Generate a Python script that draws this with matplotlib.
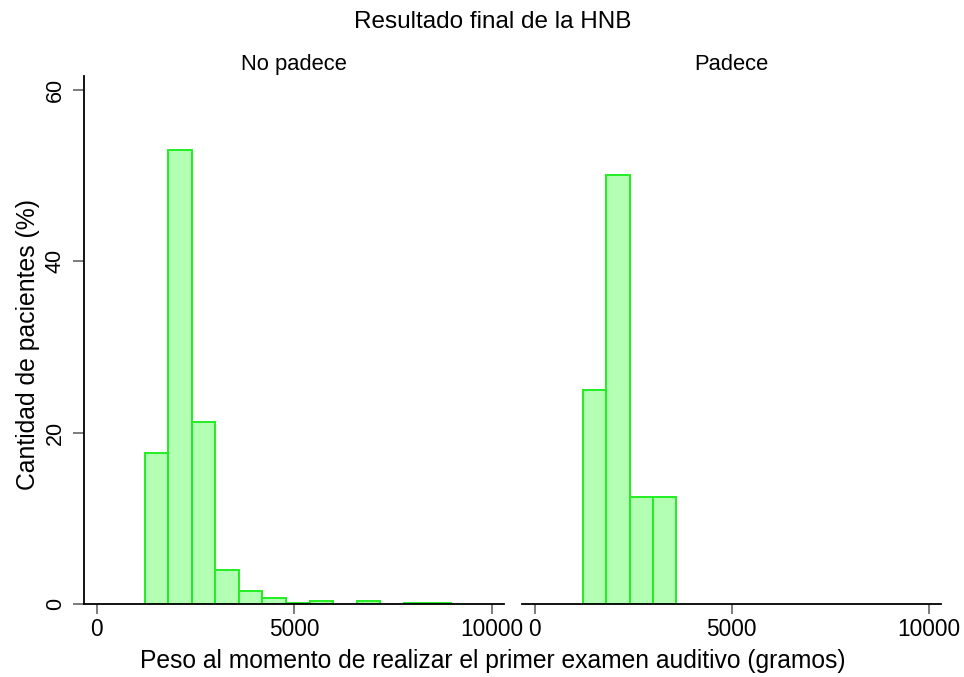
import numpy as np
import matplotlib
matplotlib.use("Agg")
import matplotlib.pyplot as plt

plt.rcParams['font.family'] = ['Liberation Sans', 'DejaVu Sans']

# Common histogram bins (grams)
bin_start = 1218
bin_width = 595.5

groups = ["No padece", "Padece"]
# Percent of patients per bin
pct_no_padece = [17.6, 53.0, 21.2, 4.0, 1.5, 0.65, 0.07, 0.35, 0.0, 0.35, 0.0, 0.07, 0.07]
pct_padece = [25.0, 50.0, 12.5, 12.5]

x_ticks = [0, 5000, 10000]
y_ticks = [0, 20, 40, 60]

title = "Resultado final de la HNB"
xlabel = "Peso al momento de realizar el primer examen auditivo (gramos)"
ylabel = "Cantidad de pacientes (%)"

W, H = 964, 677
fig = plt.figure(figsize=(W / 100, H / 100), dpi=100)
fig.patch.set_facecolor("white")

def px_axes(x0, y0, x1, y1):
    return fig.add_axes([x0 / W, 1 - y1 / H, (x1 - x0) / W, (y1 - y0) / H])

ax_left = px_axes(84, 76, 503.5, 604)
ax_right = px_axes(521.7, 76, 940.7, 604)

fill = "#b3ffb3"
edge = "#22ee22"
tick_col = "#666666"

for ax, name, vals in [(ax_left, groups[0], pct_no_padece),
                       (ax_right, groups[1], pct_padece)]:
    vals = np.asarray(vals, dtype=float)
    lefts = bin_start + bin_width * np.arange(len(vals))
    mask = vals > 0
    ax.bar(lefts[mask], vals[mask], width=bin_width, align="edge",
           color=fill, edgecolor=edge, linewidth=1.4, zorder=2)
    ax.set_xlim(-325, 10300)
    ax.set_ylim(0, 61.6)
    ax.set_xticks(x_ticks)
    ax.set_xticklabels([str(t) for t in x_ticks], fontsize=16.3)
    ax.tick_params(axis="x", direction="out", length=7, width=1.2,
                   color=tick_col, pad=3)
    for s in ["top", "right"]:
        ax.spines[s].set_visible(False)
    ax.spines["bottom"].set_linewidth(1.3)
    ax.spines["bottom"].set_color("black")
    ax.set_title(name, fontsize=15.8, pad=4)
    ax.patch.set_alpha(0)

ax_left.set_yticks(y_ticks)
ax_left.set_yticklabels([str(t) for t in y_ticks], fontsize=15.5,
                        rotation=90, va="center")
ax_left.tick_params(axis="y", direction="out", length=8, width=1.2,
                    color=tick_col, pad=5)
ax_left.spines["left"].set_linewidth(1.3)
ax_left.spines["left"].set_color("black")

ax_right.spines["left"].set_visible(False)
ax_right.set_yticks([])

cx = 493 / W
fig.text(cx, 1 - 22 / H, title, ha="center", va="center", fontsize=17.5)
fig.text(cx, 1 - 661 / H, xlabel, ha="center", va="center", fontsize=17.7)
fig.text(28 / W, 1 - 345 / H, ylabel, ha="center", va="center",
         rotation=90, fontsize=17.8)

fig.savefig("out.png", dpi=100, facecolor="white")
